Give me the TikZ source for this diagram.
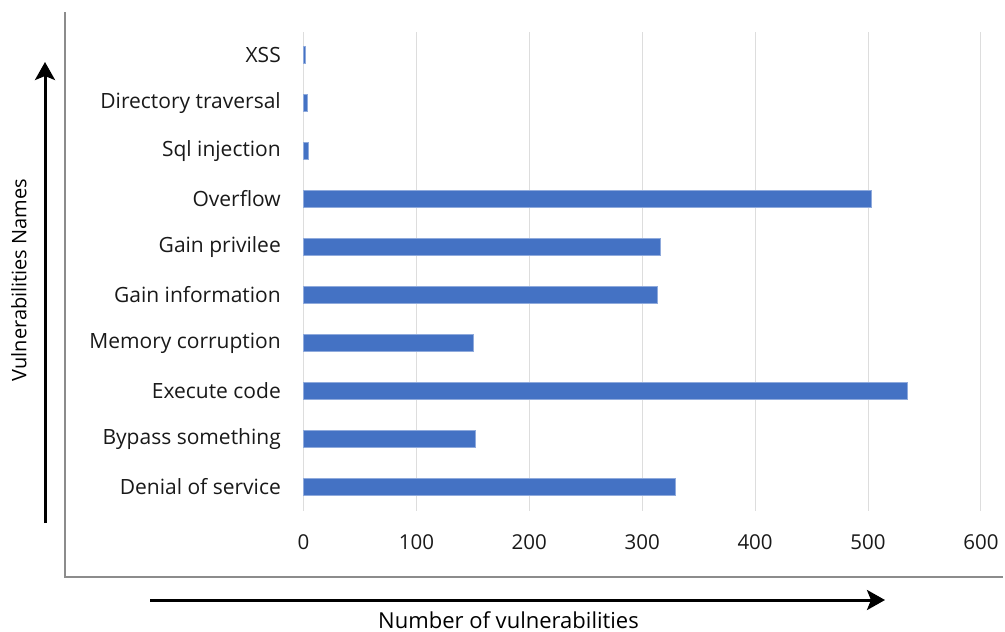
\documentclass[tikz,border=0pt]{standalone}
\usepackage{fontspec}
\setmainfont{Open Sans}
\usetikzlibrary{arrows.meta}
\definecolor{barblue}{HTML}{4472C4}
\definecolor{gridgray}{HTML}{DDDDDD}
\definecolor{framegray}{HTML}{8C8C8C}
\tikzset{
  bar/.style={fill=barblue, draw=barblue!60!white, line width=0.6pt},
  catlabel/.style={anchor=east, inner sep=0pt, text=black!90, font=\fontsize{21}{24}\selectfont},
  ticklabel/.style={inner sep=0pt, text=black!90, font=\fontsize{20.5}{24}\selectfont},
  axisarrow/.style={line width=3pt, -{Stealth[length=18pt,width=20pt,inset=4pt]}}
}

\begin{document}
\begin{tikzpicture}[x=1pt,y=-1pt]
\useasboundingbox (0,0) rectangle (1005,632);
% chart frame
\draw[framegray, line width=1.5pt] (65,12) -- (65,577) -- (1003,577);
% grid and ticks
\foreach \v in {0,100,...,600} {
  \draw[gridgray, line width=1pt] ({303.5+1.129*\v},32) -- ({303.5+1.129*\v},511);
  \node[ticklabel] (tick\v) at ({303.5+1.129*\v},542) {\v};
}
% bars
\foreach \i/\txt/\val in {0/XSS/1.5, 1/Directory traversal/3.5, 2/Sql injection/4.5, 3/Overflow/503, 4/Gain privilee/316, 5/Gain information/313.5, 6/Memory corruption/150.5, 7/Execute code/534.5, 8/Bypass something/152, 9/Denial of service/329} {
  \node[catlabel] (cat\i) at (281,{55+48*\i}) {\txt};
  \draw[bar] (303.5,{46.5+48*\i}) rectangle ({303.5+1.129*\val},{63.5+48*\i});
}
% axis arrows
\coordinate (ybot) at (45,523);
\coordinate (ytop) at (45,62);
\draw[axisarrow] (ybot) -- (ytop);
\node[rotate=90, inner sep=0pt, font=\fontsize{20}{24}\selectfont] (ylab) at (19,280) {Vulnerabilities Names};
\coordinate (xleft) at (150,600);
\coordinate (xright) at (885,600);
\draw[axisarrow] (xleft) -- (xright);
\node[inner sep=0pt, font=\fontsize{22}{26}\selectfont] (xlab) at (508.5,620) {Number of vulnerabilities};
\end{tikzpicture}
\end{document}
